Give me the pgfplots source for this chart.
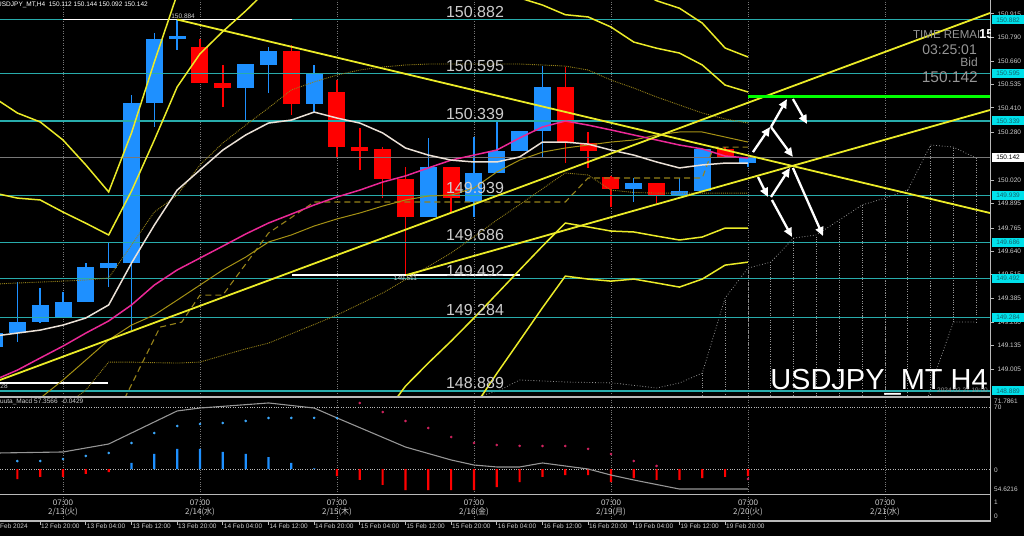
\documentclass[border=0pt]{standalone}
\usepackage{pgfplots}
\pgfplotsset{compat=1.18}
\usepackage{pgfplotstable}
\usepackage{fontspec}
\setmainfont{Liberation Sans}
\newfontfamily\jp{Noto Sans CJK JP}
\usetikzlibrary{arrows.meta}

\definecolor{cblue}{RGB}{30,144,255}
\definecolor{cred}{RGB}{255,0,0}
\definecolor{lvl}{RGB}{40,172,172}
\definecolor{lvlbox}{RGB}{0,225,235}
\definecolor{boxtxt}{RGB}{20,100,110}
\definecolor{ylw}{RGB}{235,235,40}
\definecolor{mag}{RGB}{235,40,150}
\definecolor{wma}{RGB}{235,225,215}
\definecolor{olv}{RGB}{165,145,20}
\definecolor{olvd}{RGB}{150,130,25}
\definecolor{grn}{RGB}{0,255,0}
\definecolor{txtg}{RGB}{205,205,205}
\definecolor{sep}{RGB}{185,185,185}
\definecolor{gridc}{RGB}{120,120,120}
\definecolor{cloud}{RGB}{150,150,150}
\definecolor{hcyan}{RGB}{60,170,255}
\definecolor{hpink}{RGB}{210,35,95}

\newcommand\tf{\fontsize{6.5}{7.5}\selectfont}
\newcommand\PY[1]{536-(150.989-#1)*186.15}

% H4 candles, index 0 = 2/14 07:00
\pgfplotstableread{
i  o       h       l       c
-9 149.125 149.215 149.110 149.200
-8 149.200 149.474 149.152 149.259
-7 149.259 149.442 149.254 149.351
-6 149.286 149.420 149.286 149.367
-5 149.367 149.576 149.367 149.555
-4 149.549 149.689 149.447 149.576
-3 149.576 150.479 149.216 150.436
-2 150.436 150.812 150.307 150.779
-1 150.779 150.884 150.720 150.796
2  150.516 150.645 150.344 150.645
3  150.640 150.737 150.489 150.715
5  150.430 150.640 150.387 150.597
10 149.823 150.248 149.823 150.092
12 149.904 150.253 149.823 150.060
13 150.060 150.344 150.060 150.178
14 150.178 150.285 150.178 150.285
15 150.285 150.634 150.146 150.522
19 149.974 150.033 149.904 150.006
21 149.936 150.033 149.936 149.963
22 149.963 150.189 149.963 150.189
24 150.112 150.144 150.092 150.142
}\upc

\pgfplotstableread{
i  o       h       l       c
0  150.737 150.779 150.543 150.543
1  150.543 150.640 150.414 150.516
4  150.715 150.747 150.371 150.430
6  150.495 150.559 150.146 150.199
7  150.199 150.301 150.076 150.178
8  150.189 150.199 149.925 150.027
9  150.027 150.092 149.511 149.823
11 150.092 150.092 149.850 149.925
16 150.522 150.629 150.113 150.226
17 150.221 150.280 150.087 150.178
18 150.038 150.045 149.877 149.974
20 150.006 150.006 149.898 149.941
23 150.189 150.199 150.140 150.140
}\dnc

\pgfplotstableread{
i  wma     mag     olv     dotu    dotl    bba     bbb     bbl1    bbl2
-9 149.184 148.948 148.800 149.463 148.800 150.463 149.952 148.700 148.700
-8 149.200 149.001 148.800 149.469 148.800 150.382 149.925 148.700 148.700
-7 149.216 149.066 148.850 149.474 148.800 150.334 149.915 148.700 148.700
-6 149.243 149.130 148.948 149.479 148.800 150.237 149.850 148.700 148.700
-5 149.281 149.200 149.055 149.485 148.894 150.103 149.790 148.700 148.700
-4 149.351 149.265 149.163 149.496 149.044 149.958 149.727 148.700 148.700
-3 149.576 149.351 149.243 149.673 149.044 150.275 149.963 148.700 148.700
-2 149.780 149.458 149.297 149.850 149.041 150.656 150.237 148.700 148.700
-1 149.968 149.539 149.377 149.941 149.039 151.020 150.522 148.700 148.700
0  150.076 149.603 149.458 150.103 149.044 151.300 150.700 148.700 148.700
1  150.183 149.667 149.539 150.221 149.080 151.300 150.820 148.700 148.700
2  150.264 149.732 149.608 150.317 149.115 151.300 150.930 148.700 148.700
3  150.328 149.791 149.689 150.409 149.146 151.300 151.050 148.700 148.700
4  150.344 149.839 149.727 150.506 149.196 151.300 151.100 148.700 148.700
5  150.387 149.888 149.775 150.549 149.246 151.300 151.100 148.700 148.700
6  150.355 149.931 149.813 150.586 149.297 151.300 151.100 148.700 148.700
7  150.328 149.968 149.845 150.613 149.356 151.300 151.100 148.700 148.700
8  150.275 150.011 149.882 150.629 149.415 151.300 151.100 148.750 148.700
9  150.194 150.044 149.915 150.640 149.487 151.300 151.100 148.915 148.700
10 150.156 150.087 149.936 150.645 149.558 151.300 151.100 149.039 148.700
11 150.129 150.129 149.941 150.645 149.630 151.300 151.100 149.157 148.700
12 150.119 150.156 149.979 150.645 149.718 151.300 151.100 149.281 148.800
13 150.119 150.183 150.065 150.645 149.807 151.300 151.100 149.410 148.983
14 150.146 150.248 150.129 150.645 149.890 151.300 151.000 149.539 149.159
15 150.226 150.307 150.172 150.640 149.975 151.300 150.962 149.667 149.336
16 150.226 150.339 150.194 150.634 150.060 151.300 150.910 149.791 149.506
17 150.215 150.317 150.210 150.613 150.049 151.250 150.898 149.770 149.490
18 150.183 150.291 150.226 150.559 149.968 151.150 150.844 149.748 149.479
19 150.156 150.264 150.237 150.516 149.955 151.050 150.763 149.743 149.490
20 150.119 150.237 150.264 150.468 149.952 150.985 150.730 149.721 149.469
21 150.087 150.210 150.280 150.425 149.952 150.945 150.704 149.700 149.447
22 150.103 150.189 150.280 150.382 149.952 150.865 150.640 149.716 149.490
23 150.113 150.151 150.253 150.350 149.952 150.731 150.532 149.764 149.565
24 150.113 150.140 150.226 150.328 149.952 150.683 150.495 149.764 149.581
}\ind

\pgfplotstableread{
i  up      lo
22 148.985 148.700
23 149.388 148.700
24 149.549 148.700
25 149.581 148.700
26 149.710 148.700
27 149.727 148.700
28 149.807 148.700
29 149.888 148.700
30 149.925 148.700
31 149.968 148.700
32 150.210 148.700
33 150.199 149.259
34 150.140 149.259
}\cloudtab

\begin{document}
\begin{tikzpicture}[x=1pt,y=1pt]
\fill[black] (0,0) rectangle (1024,536);
\useasboundingbox (0,0) rectangle (1024,536);

% ---------------- main price window ----------------
\begin{axis}[
  at={(0pt,140pt)}, anchor=south west,
  scale only axis, width=990pt, height=396pt,
  xmin=-8.760, xmax=34.603, ymin=148.862, ymax=150.989,
  clip mode=individual,
  axis line style={draw=none},
  xtick={-6,0,...,30}, xticklabels={}, xtick style={draw=none},
  xmajorgrids, major x grid style={gridc, dotted, line width=0.8pt},
  ytick pos=right, yticklabel pos=right,
  ytick={150.915,150.790,150.660,150.535,150.410,150.280,150.020,149.895,149.765,149.640,149.515,149.385,149.260,149.135,149.005},
  yticklabels={150.915,150.790,150.660,150.535,150.410,150.280,150.020,149.895,149.765,149.640,149.515,149.385,149.260,149.135,149.005},
  tick align=outside, major tick length=4pt,
  ytick style={draw=sep, line width=0.6pt},
  yticklabel style={font=\tf, text=txtg, anchor=west, xshift=0pt},
]
% cloud hatch and span
\addplot[draw=none, mark=none, error bars/.cd, y dir=both, y explicit, error mark=none,
  error bar style={draw=cloud, dotted, line width=0.8pt}]
  table[x=i, y expr={(\thisrow{up}+\thisrow{lo})/2}, y error expr={(\thisrow{up}-\thisrow{lo})/2}] {\cloudtab};
\addplot[cloud, dotted, line width=0.8pt] coordinates {
  (12.3,148.862) (13.14,148.894) (14,148.948) (16.07,148.937) (18.09,148.932) (20,148.905)
  (21,148.932) (22,148.985) (23,149.388) (24,149.549) (25,149.581) (26,149.710) (27,149.727)
  (28,149.807) (29,149.888) (30,149.925) (31,149.968) (32,150.210) (33,150.199) (34,150.140)};
\addplot[cloud, dotted, line width=0.8pt] coordinates {
  (31.9,148.862) (32.1,148.948) (33,149.259) (34,149.259)};

% candles
\addplot[draw=none, mark=none, error bars/.cd, y dir=both, y explicit, error mark=none,
  error bar style={draw=cblue, line width=1.4pt}]
  table[x=i, y expr={(\thisrow{h}+\thisrow{l})/2}, y error expr={(\thisrow{h}-\thisrow{l})/2}] {\upc};
\addplot[draw=none, mark=none, error bars/.cd, y dir=both, y explicit, error mark=none,
  error bar style={draw=cblue, line width=17pt}]
  table[x=i, y expr={(\thisrow{o}+\thisrow{c})/2}, y error expr={max(abs(\thisrow{c}-\thisrow{o})/2,0.003)}] {\upc};
\addplot[draw=none, mark=none, error bars/.cd, y dir=both, y explicit, error mark=none,
  error bar style={draw=cred, line width=1.4pt}]
  table[x=i, y expr={(\thisrow{h}+\thisrow{l})/2}, y error expr={(\thisrow{h}-\thisrow{l})/2}] {\dnc};
\addplot[draw=none, mark=none, error bars/.cd, y dir=both, y explicit, error mark=none,
  error bar style={draw=cred, line width=17pt}]
  table[x=i, y expr={(\thisrow{o}+\thisrow{c})/2}, y error expr={max(abs(\thisrow{c}-\thisrow{o})/2,0.003)}] {\dnc};

% level lines
\addplot[lvl, line width=1.1pt] coordinates {(-8.76,150.882) (34.6,150.882)};
\addplot[lvl, line width=1.1pt] coordinates {(-8.76,150.595) (34.6,150.595)};
\addplot[lvl, line width=1.1pt] coordinates {(-8.76,150.339) (34.6,150.339)};
\addplot[lvl, line width=1.1pt] coordinates {(-8.76,149.939) (34.6,149.939)};
\addplot[lvl, line width=1.1pt] coordinates {(-8.76,149.686) (34.6,149.686)};
\addplot[lvl, line width=1.1pt] coordinates {(-8.76,149.492) (34.6,149.492)};
\addplot[lvl, line width=1.1pt] coordinates {(-8.76,149.284) (34.6,149.284)};
\addplot[lvl, line width=1.1pt] coordinates {(-8.76,148.889) (34.6,148.889)};
\addplot[gridc, line width=0.9pt] coordinates {(-8.76,150.142) (34.6,150.142)};

% high / low marks
\addplot[white, line width=1.5pt] coordinates {(-6,150.884) (4.03,150.884)};
\addplot[white, line width=1.5pt] coordinates {(4.03,149.511) (14,149.511)};
\addplot[white, line width=1.5pt] coordinates {(-8.76,148.932) (-4.03,148.932)};

% moving averages, ichimoku-type lines
\addplot[olvd, densely dotted, line width=0.9pt] table[x=i, y=dotu] {\ind};
\addplot[olvd, densely dotted, line width=0.9pt] table[x=i, y=dotl] {\ind};
\addplot[olvd, dash pattern=on 6pt off 4pt, line width=1.1pt] coordinates {
  (-3.5,148.800) (-1.75,149.232) (-0.8,149.259) (0,149.404) (1,149.404) (3,149.737)
  (5,149.904) (16,149.904) (17,150.033) (22,150.033) (22.5,150.199) (24,150.199)};
\addplot[olv, line width=1pt] table[x=i, y=olv] {\ind};
\addplot[mag, line width=1.5pt] table[x=i, y=mag] {\ind};
\addplot[wma, line width=1.5pt] table[x=i, y=wma] {\ind};

% bollinger bands
\addplot[ylw, line width=1.5pt] table[x=i, y=bba] {\ind};
\addplot[ylw, line width=1.5pt] table[x=i, y=bbb] {\ind};
\addplot[ylw, line width=1.5pt] table[x=i, y=bbl1] {\ind};
\addplot[ylw, line width=1.5pt] table[x=i, y=bbl2] {\ind};

% trend lines
\addplot[ylw, line width=1.8pt] coordinates {(-1.0,150.884) (34.6,149.845)};
\addplot[ylw, line width=1.8pt] coordinates {(-8.76,148.948) (34.6,150.919)};
\addplot[ylw, line width=1.8pt] coordinates {(9.02,149.511) (34.6,150.398)};
\addplot[grn, line width=3pt] coordinates {(24,150.473) (34.6,150.473)};

% scenario arrows
\begin{scope}[every path/.style={}]
\addplot[white, line width=2.3pt, -{Triangle[length=9pt,width=8pt]}] coordinates {(24.22,150.172) (24.97,150.307)};
\addplot[white, line width=2.3pt, -{Triangle[length=9pt,width=8pt]}] coordinates {(25.01,150.307) (25.71,150.457)};
\addplot[white, line width=2.3pt, -{Triangle[length=9pt,width=8pt]}] coordinates {(25.97,150.457) (26.59,150.323)};
\addplot[white, line width=2.3pt, -{Triangle[length=9pt,width=8pt]}] coordinates {(25.01,150.307) (25.97,150.146)};
\addplot[white, line width=2.3pt, -{Triangle[length=9pt,width=8pt]}] coordinates {(24.44,150.038) (24.88,149.931)};
\addplot[white, line width=2.3pt, -{Triangle[length=9pt,width=8pt]}] coordinates {(25.01,149.931) (25.84,150.087)};
\addplot[white, line width=2.3pt, -{Triangle[length=9pt,width=8pt]}] coordinates {(25.05,149.915) (25.93,149.716)};
\addplot[white, line width=2.3pt, -{Triangle[length=9pt,width=8pt]}] coordinates {(25.97,150.087) (27.29,149.721)};
\end{scope}

% level texts
\tikzset{lt/.style={anchor=base, yshift=2pt, inner sep=0pt, text=txtg, font=\fontsize{16}{16}\selectfont}}
\node[lt] at (axis cs:12.045,150.882) {150.882};
\node[lt] at (axis cs:12.045,150.595) {150.595};
\node[lt] at (axis cs:12.045,150.339) {150.339};
\node[lt] at (axis cs:12.045,149.939) {149.939};
\node[lt] at (axis cs:12.045,149.686) {149.686};
\node[lt] at (axis cs:12.045,149.492) {149.492};
\node[lt] at (axis cs:12.045,149.284) {149.284};
\node[lt] at (axis cs:12.045,148.889) {148.889};
\node[anchor=south, inner sep=1pt, text=txtg, font=\tf] at (axis cs:-0.74,150.884) {150.884};
\node[anchor=north, inner sep=1pt, text=txtg, font=\tf] at (axis cs:9.0,149.511) {149.511};
\node[anchor=north east, inner sep=1pt, text=txtg, font=\tf] at (axis cs:-8.37,148.932) {148.928};
\end{axis}

% ---------------- MACD window ----------------
\begin{axis}[
  at={(0pt,42pt)}, anchor=south west,
  scale only axis, width=990pt, height=96pt,
  xmin=-8.760, xmax=34.603, ymin=-28.2, ymax=80.1,
  axis line style={draw=none},
  xtick={-6,0,...,30}, xticklabels={}, xtick style={draw=none},
  xmajorgrids, major x grid style={gridc, dotted, line width=0.8pt},
  ytick={0,70}, yticklabels={}, ytick style={draw=none},
  ymajorgrids, major y grid style={sep, dotted, line width=0.8pt},
]
\addplot[ybar, bar width=2.2pt, bar shift=0pt, fill=cblue, draw=none] coordinates {
  (-3,6.8) (-2,17) (-1,22.6) (0,22.6) (1,19.2) (2,17) (3,13.5) (4,6.8) (5,0.8)};
\addplot[ybar, bar width=2.2pt, bar shift=0pt, fill=cred, draw=none] coordinates {
  (-8,-11.3) (-7,-9) (-6,-9) (-5,-5.6) (-4,-3.4) (6,-7.9) (7,-12.4) (8,-18) (9,-23.7)
  (10,-23.7) (11,-23.7) (12,-23.7) (13,-20.3) (14,-14.7) (15,-9) (16,-6.8) (17,-6.8)
  (18,-14.7) (19,-10.2) (20,-12.4) (21,-12.4) (22,-10.2) (23,-9) (24,-7.9)};
\addplot[cloud, line width=1.1pt] coordinates {
  (-9,18.0) (-6,19.2) (-4,28.2) (-1,65.5) (0,68.8) (3,74.5) (5,68.8) (6,57.6) (9,24.8)
  (11,10.2) (12,4.5) (13,2.3) (14,2.3) (15,6.8) (17,0) (18,-6.8) (19,-12.4) (21,-22.6)
  (22,-22.6) (24,-22.6)};
\addplot[only marks, mark=*, mark size=1.1pt, hcyan] coordinates {
  (-8,9.0) (-7,9.0) (-6,11.3) (-5,14.7) (-4,18.1) (-3,29.3) (-2,40.6) (-1,48.5) (0,50.8)
  (1,51.9) (2,54.2) (3,57.6) (4,57.6) (5,57.6) (6,57.6)};
\addplot[only marks, mark=*, mark size=1.1pt, hpink] coordinates {
  (7,74.5) (8,64.3) (9,54.2) (10,46.3) (11,36.1) (12,29.3) (13,27.1) (14,26.0) (15,26.0)
  (16,26.0) (17,22.6) (18,16.9) (19,9.0) (20,3.4) (24,-11.3)};
\end{axis}

% ---------------- third (empty) window ----------------
\begin{axis}[
  at={(0pt,15pt)}, anchor=south west,
  scale only axis, width=990pt, height=25pt,
  xmin=-8.760, xmax=34.603, ymin=0, ymax=1,
  axis line style={draw=none},
  xtick={-6,0,...,30}, xticklabels={}, xtick style={draw=none},
  xmajorgrids, major x grid style={gridc, dotted, line width=0.8pt},
  ytick=\empty,
]
\addplot[draw=none] coordinates {(0,0)};
\end{axis}

% separators
\draw[sep, line width=1.6pt] (0,139) -- (990.5,139);
\draw[sep, line width=1.6pt] (0,41.5) -- (990.5,41.5);
\draw[sep, line width=1.2pt] (0,15) -- (990.5,15);
\draw[sep, line width=0.9pt] (990.5,15) -- (990.5,536);

% right price boxes
\tikzset{pb/.style={fill=lvlbox, text=boxtxt, font=\tf, minimum width=32pt, minimum height=9pt, inner sep=0pt}}
\node[pb] at (1008,{\PY{150.882}}) {150.882};
\node[pb] at (1008,{\PY{150.595}}) {150.595};
\node[pb] at (1008,{\PY{150.339}}) {150.339};
\node[pb] at (1008,{\PY{149.939}}) {149.939};
\node[pb] at (1008,{\PY{149.686}}) {149.686};
\node[pb] at (1008,{\PY{149.492}}) {149.492};
\node[pb] at (1008,{\PY{149.284}}) {149.284};
\node[pb] at (1008,{\PY{148.889}}) {148.889};
\node[fill=white, text=black, font=\tf, minimum width=32pt, minimum height=9pt, inner sep=0pt] at (1008,{\PY{150.142}}) {150.142};

% MACD scale texts
\node[anchor=west, inner sep=0pt, text=txtg, font=\tf] at (994,{536-401}) {71.7861};
\node[anchor=west, inner sep=0pt, text=txtg, font=\tf] at (994,{536-407}) {70};
\node[anchor=west, inner sep=0pt, text=txtg, font=\tf] at (994,{536-470}) {0};
\node[anchor=west, inner sep=0pt, text=txtg, font=\tf] at (994,{536-489}) {54.6216};
\node[anchor=west, inner sep=0pt, text=txtg, font=\tf] at (994,{536-502}) {1};
\node[anchor=west, inner sep=0pt, text=txtg, font=\tf] at (994,{536-516}) {0};

% header texts
\node[anchor=west, inner sep=0pt, text=white, font=\tf] at (-3,531) {USDJPY\_MT,H4\ \ 150.112 150.144 150.092 150.142};
\node[anchor=west, inner sep=0pt, text=txtg, font=\tf] at (0,{536-402}) {uuta\_Macd 57.3566\ \ -0.0429};
\begin{scope}
\clip (900,470) rectangle (978,520);
\node[anchor=base west, inner sep=0pt, text=cloud, font=\fontsize{11.5}{12}\selectfont] at (913,{536-39}) {TIME REMAINING};
\end{scope}
\begin{scope}
\clip (978,470) rectangle (990,536);
\node[anchor=base west, inner sep=0pt, text=white, font=\bfseries\fontsize{13}{13}\selectfont] at (979,{536-39}) {150.142};
\end{scope}
\node[anchor=base east, inner sep=0pt, text=cloud, font=\fontsize{14}{14}\selectfont] at (977,{536-55}) {03:25:01};
\node[anchor=base east, inner sep=0pt, text=cloud, font=\fontsize{12}{12}\selectfont] at (978,{536-67}) {Bid};
\node[anchor=base east, inner sep=0pt, text=cloud, font=\fontsize{15.5}{16}\selectfont] at (978,{536-83}) {150.142};
\node[anchor=base east, inner sep=0pt, text=white, font=\fontsize{29}{29}\selectfont] at (988,{536-389}) {USDJPY\_MT H4};
\node[anchor=east, inner sep=0pt, text=cloud, font=\tf] at (988,{536-390}) {2024.02.21 19:00};

% day labels
\foreach \x/\d/\w in {63/13/火, 200/14/水, 337/15/木, 474/16/金, 611/19/月, 748/20/火, 885/21/水} {
  \node[inner sep=0pt, text=txtg, font=\fontsize{8}{9}\selectfont] at (\x,{536-503}) {07:00};
  \node[inner sep=0pt, text=txtg, font={\fontsize{8}{9}\jp}] at (\x,{536-512}) {2/\d(\w)};
}
% time axis
\node[anchor=west, inner sep=0pt, text=txtg, font=\tf] at (-9,10) {12 Feb 2024};
\foreach \x/\t in {40/12 Feb 20:00, 85.7/13 Feb 04:00, 131.3/13 Feb 12:00, 177/13 Feb 20:00,
  222.7/14 Feb 04:00, 268.3/14 Feb 12:00, 314/14 Feb 20:00, 359.7/15 Feb 04:00,
  405.3/15 Feb 12:00, 451/15 Feb 20:00, 496.7/16 Feb 04:00, 542.3/16 Feb 12:00,
  588/16 Feb 20:00, 633.7/19 Feb 04:00, 679.3/19 Feb 12:00, 725/19 Feb 20:00} {
  \draw[sep, line width=0.6pt] (\x,15) -- (\x,11);
  \node[anchor=west, inner sep=0pt, text=txtg, font=\tf] at (\x+1,10) {\t};
}
\end{tikzpicture}
\end{document}
